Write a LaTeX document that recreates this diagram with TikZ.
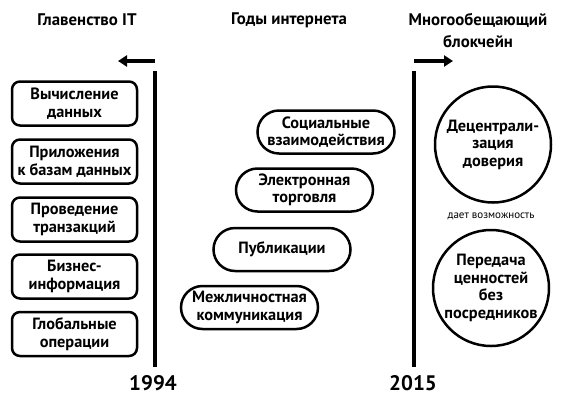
\documentclass[tikz,border=0pt]{standalone}
\usepackage{fontspec}
\setmainfont{PT Sans}
\usetikzlibrary{arrows.meta}
\begin{document}
\begin{tikzpicture}[x=1pt,y=-1pt,
  title/.style={font=\bfseries\fontsize{16.8}{22}\selectfont, align=center, inner sep=0},
  year/.style={font=\bfseries\fontsize{21}{22}\selectfont, inner sep=0},
  itbox/.style={draw, line width=2.5pt, rounded corners=8pt, minimum width=125pt, minimum height=44pt, align=center, inner sep=0, font=\bfseries\fontsize{16.3}{17.5}\selectfont},
  pill/.style={draw, line width=2.5pt, rounded corners=21.5pt, minimum width=137pt, minimum height=43pt, align=center, inner sep=0, font=\bfseries\fontsize{16.3}{17.5}\selectfont},
  circ/.style={draw, circle, line width=2.5pt, minimum size=116pt, align=center, inner sep=0, font=\bfseries\fontsize{16.3}{17.5}\selectfont},
  axis/.style={line width=4pt},
  arr/.style={line width=4pt, -{Triangle[length=9pt,width=11pt]}}
]
\useasboundingbox (0,0) rectangle (568,400);
% titles
\node[title] (t1) at (87,20) {Главенство IT};
\node[title] (t2) at (289,20) {Годы интернета};
\node[title] (t3) at (478,31) {Многообещающий\\блокчейн};
% axes
\coordinate (a1top) at (155,71);
\coordinate (a1bot) at (155,367);
\coordinate (a2top) at (414,71);
\coordinate (a2bot) at (414,367);
\draw[axis] (a1top) -- (a1bot);
\draw[axis] (a2top) -- (a2bot);
\coordinate (l1s) at (155,61);
\coordinate (l1e) at (118,61);
\coordinate (r1s) at (414,61);
\coordinate (r1e) at (453,61);
\draw[arr] (l1s) -- (l1e);
\draw[arr] (r1s) -- (r1e);
\node[year] (y1) at (153,383) {1994};
\node[year] (y2) at (413,383) {2015};
% IT boxes
\node[itbox] (b1) at (74.5,103.5) {Вычисление\\данных};
\node[itbox] (b2) at (74.5,161.5) {Приложения\\к базам данных};
\node[itbox] (b3) at (74.5,219.5) {Проведение\\транзакций};
\node[itbox] (b4) at (74.5,276.5) {Бизнес-\\информация};
\node[itbox] (b5) at (74.5,334) {Глобальные\\операции};
% internet pills
\node[pill] (p1) at (326,132) {Социальные\\взаимодействия};
\node[pill] (p2) at (304.5,190) {Электронная\\торговля};
\node[pill] (p3) at (282,249.5) {Публикации};
\node[pill] (p4) at (249.5,307.5) {Межличностная\\коммуникация};
% blockchain circles
\node[circ] (c1) at (493,144.5) {Децентрали-\\зация\\доверия};
\node[font=\fontsize{11}{13}\selectfont, inner sep=0] (lbl) at (491,216) {дает возможность};
\node[circ] (c2) at (491,288) {Передача\\ценностей\\без\\посредников};
\end{tikzpicture}
\end{document}
